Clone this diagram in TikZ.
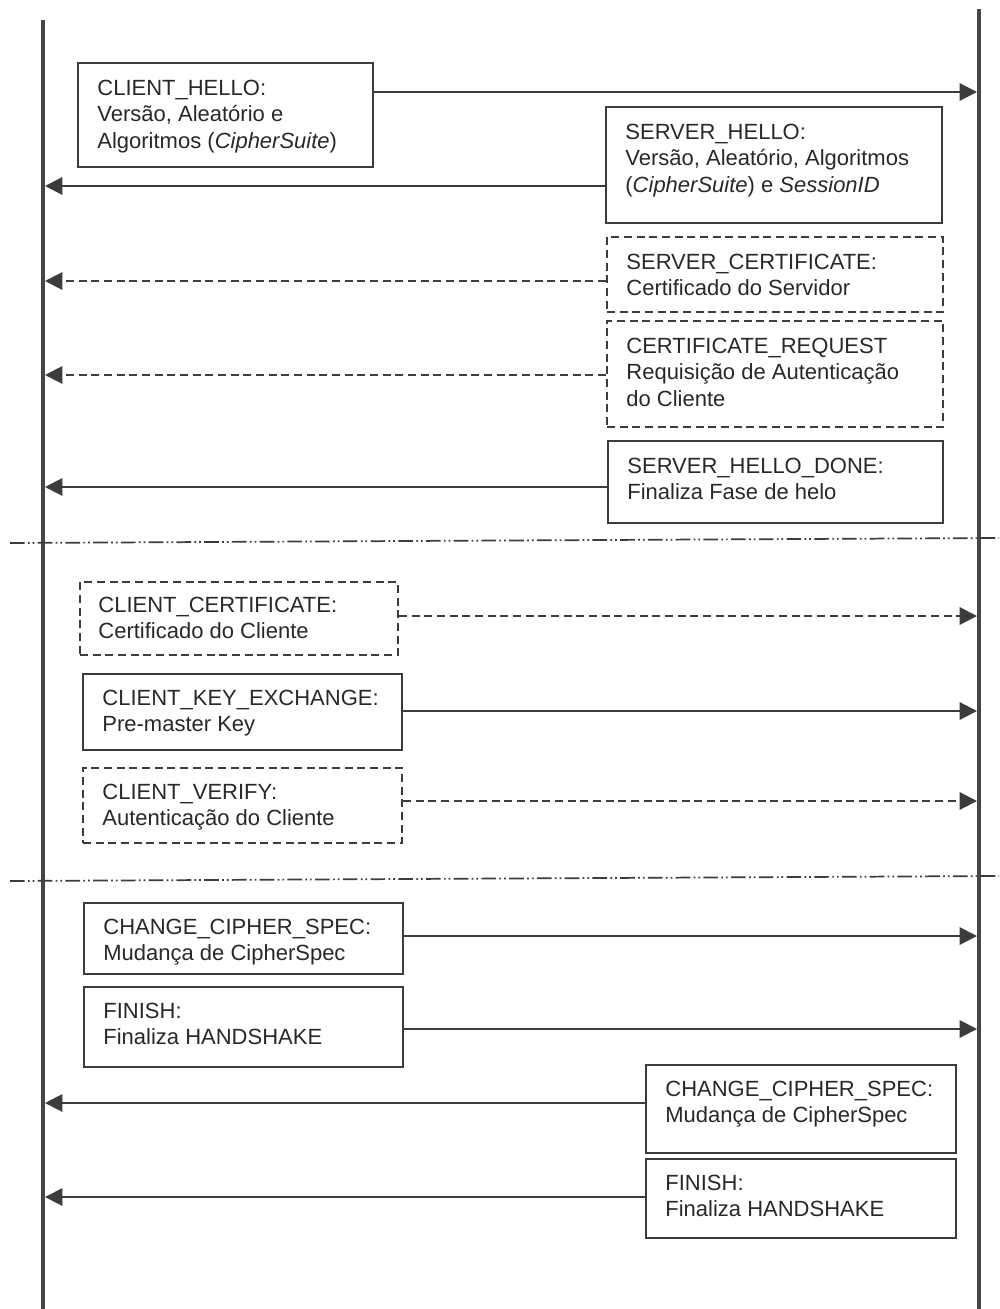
\documentclass[tikz,border=0pt]{standalone}
\usepackage{fontspec}
\setmainfont{Liberation Sans}
\usetikzlibrary{arrows.meta,fit}
\definecolor{ink}{RGB}{60,60,60}
\definecolor{txtc}{RGB}{40,40,40}
\begin{document}
\begin{tikzpicture}[x=0.75pt,y=-0.75pt,
  life/.style={line width=3.2pt, draw=ink!95},
  box/.style={draw=ink, line width=1.3pt, inner sep=0pt},
  dbox/.style={box, dash pattern=on 6pt off 3.5pt},
  txt/.style={anchor=north west, inner sep=0pt, align=left, text=txtc, font=\fontsize{16.5}{20}\selectfont},
  msg/.style={draw=ink, line width=1.5pt, -{Triangle[length=13pt,width=13pt]}},
  dmsg/.style={msg, dash pattern=on 6pt off 3.5pt},
  sep/.style={draw=ink, line width=1.3pt, dash pattern=on 11pt off 2.5pt on 1.3pt off 2.2pt on 1.3pt off 2.5pt}
]
\useasboundingbox (0,0) rectangle (999,1309);

% lifelines
\coordinate (Lt) at (43,20);
\coordinate (Lb) at (43,1309);
\coordinate (Rt) at (979,9);
\coordinate (Rb) at (979,1309);
\draw[life] (Lt) -- (Lb);
\draw[life] (Rt) -- (Rb);

% separators
\coordinate (s1a) at (10,543);
\coordinate (s1b) at (999,538);
\coordinate (s2a) at (10,881);
\coordinate (s2b) at (999,876);
\draw[sep] (s1a) -- (s1b);
\draw[sep] (s2a) -- (s2b);

% boxes
\node[box,  fit={(78,63) (373,167)}]   (ch)   {};
\node[box,  fit={(606,107) (942,223)}] (sh)   {};
\node[dbox, fit={(607,237) (943,312)}] (sc)   {};
\node[dbox, fit={(607,321) (943,427)}] (cr)   {};
\node[box,  fit={(608,441) (943,523)}] (shd)  {};
\node[dbox, fit={(80,582) (398,655)}]  (cc)   {};
\node[box,  fit={(83,674) (402,750)}]  (cke)  {};
\node[dbox, fit={(83,768) (402,843)}]  (cv)   {};
\node[box,  fit={(84,903) (403,974)}]  (ccsA) {};
\node[box,  fit={(84,987) (403,1067)}] (finA) {};
\node[box,  fit={(646,1065) (956,1153)}] (ccsB) {};
\node[box,  fit={(646,1159) (956,1238)}] (finB) {};

% texts
\node[txt] (chT) at ([shift={(20,14)}]ch.north west)
  {\strut CLIENT\_HELLO:\\Versão, Aleatório e\\Algoritmos (\textit{CipherSuite})};
\node[txt] (shT) at ([shift={(20,14)}]sh.north west)
  {\strut SERVER\_HELLO:\\Versão, Aleatório, Algoritmos\\(\textit{CipherSuite}) e \textit{SessionID}};
\node[txt] (scT) at ([shift={(20,14)}]sc.north west)
  {\strut SERVER\_CERTIFICATE:\\Certificado do Servidor};
\node[txt] (crT) at ([shift={(20,14)}]cr.north west)
  {\strut CERTIFICATE\_REQUEST\\Requisição de Autenticação\\do Cliente};
\node[txt] (shdT) at ([shift={(20,14)}]shd.north west)
  {\strut SERVER\_HELLO\_DONE:\\Finaliza Fase de helo};
\node[txt] (ccT) at ([shift={(19,12)}]cc.north west)
  {\strut CLIENT\_CERTIFICATE:\\Certificado do Cliente};
\node[txt] (ckeT) at ([shift={(20,13)}]cke.north west)
  {\strut CLIENT\_KEY\_EXCHANGE:\\Pre-master Key};
\node[txt] (cvT) at ([shift={(20,13)}]cv.north west)
  {\strut CLIENT\_VERIFY:\\Autenticação do Cliente};
\node[txt] (ccsAT) at ([shift={(20,13)}]ccsA.north west)
  {\strut CHANGE\_CIPHER\_SPEC:\\Mudança de CipherSpec};
\node[txt] (finAT) at ([shift={(20,13)}]finA.north west)
  {\strut FINISH:\\Finaliza HANDSHAKE};
\node[txt] (ccsBT) at ([shift={(20,13)}]ccsB.north west)
  {\strut CHANGE\_CIPHER\_SPEC:\\Mudança de CipherSpec};
\node[txt] (finBT) at ([shift={(20,13)}]finB.north west)
  {\strut FINISH:\\Finaliza HANDSHAKE};

% message arrows
\coordinate (a1)  at (977,92);
\coordinate (a2)  at (45,186);
\coordinate (a3)  at (45,281);
\coordinate (a4)  at (45,375);
\coordinate (a5)  at (45,487);
\coordinate (a6)  at (977,616);
\coordinate (a7)  at (977,711);
\coordinate (a8)  at (977,801);
\coordinate (a9)  at (977,936);
\coordinate (a10) at (977,1029);
\coordinate (a11) at (45,1103);
\coordinate (a12) at (45,1197);

\draw[msg]  (ch.east |- a1) -- (a1);
\draw[msg]  (sh.west |- a2) -- (a2);
\draw[dmsg] (sc.west |- a3) -- (a3);
\draw[dmsg] (cr.west |- a4) -- (a4);
\draw[msg]  (shd.west |- a5) -- (a5);
\draw[dmsg] (cc.east |- a6) -- (a6);
\draw[msg]  (cke.east |- a7) -- (a7);
\draw[dmsg] (cv.east |- a8) -- (a8);
\draw[msg]  (ccsA.east |- a9) -- (a9);
\draw[msg]  (finA.east |- a10) -- (a10);
\draw[msg]  (ccsB.west |- a11) -- (a11);
\draw[msg]  (finB.west |- a12) -- (a12);
\end{tikzpicture}
\end{document}
